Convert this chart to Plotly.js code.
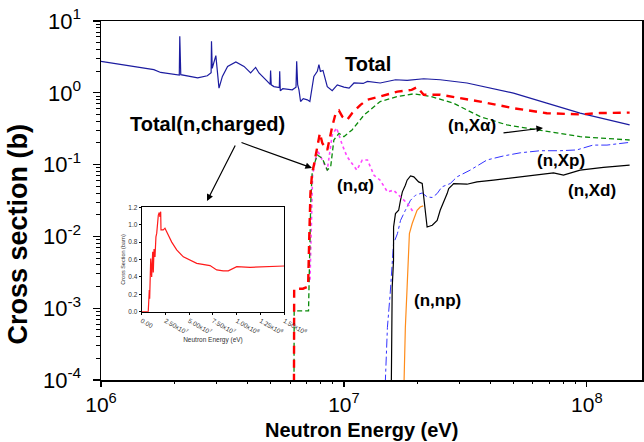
<!DOCTYPE html>
<html>
<head>
<meta charset="utf-8">
<script src="https://cdn.plot.ly/plotly-3.0.1.min.js"></script>
<style>html,body{margin:0;padding:0;background:#fff;}#chart{width:644px;height:442px;}</style>
</head>
<body>
<div id="chart"></div>
<script>
// ---- Main plot data (energy in eV, cross section in barn) ----
var totalE = [1.00e6,1.65e6,1.76e6,2.07e6,2.10e6,2.11e6,2.13e6,2.50e6,2.74e6,2.84e6,2.85e6,2.87e6,2.97e6,3.06e6,3.16e6,3.32e6,3.59e6,3.88e6,4.13e6,4.33e6,4.47e6,4.84e6,4.97e6,4.99e6,5.02e6,5.15e6,5.42e6,5.44e6,5.47e6,5.60e6,6.13e6,6.35e6,6.39e6,6.45e6,6.53e6,6.63e6,6.80e6,7.07e6,7.24e6,7.52e6,7.77e6,7.89e6,8.00e6,8.20e6,8.54e6,8.95e6,9.39e6,1.00e7,1.05e7,1.10e7,1.20e7,1.25e7,1.41e7,1.63e7,1.82e7,2.13e7,2.49e7,3.21e7,4.99e7,6.84e7,9.38e7,1.50e8];
var totalS = [2.74,2.10,1.92,1.79,1.76,6.13,1.79,1.61,1.73,1.90,5.22,2.20,3.29,1.16,1.69,2.33,2.69,2.33,1.89,2.26,1.89,1.44,1.31,2.05,1.29,1.22,1.18,1.99,1.07,1.14,1.10,1.20,2.74,1.30,1.10,0.756,0.83,0.798,0.756,1.69,1.99,2.46,1.99,2.05,1.22,1.07,1.29,1.20,1.16,1.37,1.35,1.44,1.37,1.52,1.49,1.57,1.52,1.37,0.99,0.718,0.520,0.357];

var chargedE = [6.22e6,6.24e6,6.78e6,7.12e6,7.20e6,7.28e6,7.38e6,7.50e6,7.77e6,7.96e6,8.15e6,8.54e6,8.95e6,9.25e6,9.54e6,9.85e6,1.03e7,1.08e7,1.17e7,1.25e7,1.41e7,1.51e7,1.66e7,1.90e7,2.00e7,2.13e7,2.49e7,3.64e7,4.99e7,6.84e7,9.38e7,1.13e8,1.50e8];
var chargedS = [1e-5,1.87e-3,1.87e-3,2.0e-3,0.01,0.04,0.07,0.092,0.177,0.273,0.198,0.160,0.338,0.52,0.566,0.466,0.419,0.52,0.68,0.80,0.888,0.94,1.04,1.10,1.20,0.94,0.94,0.755,0.61,0.52,0.50,0.522,0.53];

var xalphaE = [6.22e6,6.24e6,7.15e6,7.22e6,7.30e6,7.41e6,7.77e6,8.15e6,8.54e6,8.82e6,9.09e6,9.54e6,1.00e7,1.08e7,1.21e7,1.41e7,1.66e7,1.94e7,2.28e7,2.82e7,3.64e7,4.69e7,6.42e7,8.53e7,9.38e7,1.50e8];
var xalphaS = [1e-5,9.2e-4,9.2e-4,0.005,0.03,0.084,0.136,0.122,0.084,0.093,0.22,0.273,0.245,0.304,0.49,0.755,0.888,0.968,0.888,0.718,0.466,0.357,0.304,0.259,0.245,0.22];

var nalphaE = [7.25e6,7.43e6,7.77e6,8.15e6,8.54e6,8.95e6,9.33e6,9.85e6,1.03e7,1.13e7,1.19e7,1.25e7,1.33e7,1.41e7,1.51e7,1.60e7,1.71e7,1.82e7,1.93e7];
var nalphaS = [2.5e-3,0.071,0.16,0.116,0.084,0.259,0.324,0.187,0.129,0.084,0.116,0.116,0.071,0.0607,0.0417,0.044,0.0355,0.029,0.0219];

var xpE = [1.47e7,1.51e7,1.55e7,1.58e7,1.60e7,1.66e7,1.71e7,1.79e7,1.88e7,1.97e7,2.10e7,2.20e7,2.31e7,2.42e7,2.53e7,2.74e7,2.92e7,3.31e7,3.88e7,4.54e7,5.32e7,6.42e7,7.76e7,9.09e7,1.06e8,1.21e8,1.50e8];
var xpS = [5e-5,5.4e-4,1.58e-3,4.15e-3,7.9e-3,0.0109,0.0167,0.0231,0.0319,0.0374,0.0403,0.0355,0.0348,0.0395,0.0489,0.0545,0.0675,0.0838,0.116,0.132,0.146,0.156,0.156,0.160,0.187,0.187,0.204];

var xdE = [1.565e7,1.57e7,1.58e7,1.60e7,1.601e7,1.63e7,1.68e7,1.71e7,1.74e7,1.79e7,1.82e7,1.88e7,1.94e7,2.03e7,2.10e7,2.20e7,2.31e7,2.42e7,2.49e7,2.66e7,2.70e7,2.79e7,2.83e7,3.21e7,3.53e7,4.13e7,5.32e7,6.42e7,7.29e7,8.01e7,9.38e7,1.17e8,1.50e8];
var xdS = [5e-5,1.95e-3,1.95e-3,4.6e-3,0.0135,0.0208,0.0231,0.0319,0.0417,0.0517,0.0607,0.0697,0.0675,0.0574,0.0545,0.0135,0.0143,0.0167,0.0231,0.0395,0.0465,0.0517,0.0545,0.0533,0.0574,0.0607,0.0675,0.0713,0.0767,0.0713,0.0838,0.0914,0.0984];

var npE = [1.76e7,1.79e7,1.82e7,1.84e7,1.86e7,1.91e7,1.97e7,2.00e7,2.06e7,2.12e7];
var npS = [5e-5,5.4e-4,1.95e-3,4.15e-3,0.0109,0.0151,0.0197,0.0231,0.0257,0.0266];

// ---- Inset data (linear scales) ----
var insetE = [0,6.9e6,8.0e6,8.4e6,9.5e6,1.05e7,1.16e7,1.22e7,1.30e7,1.40e7,1.50e7,1.58e7,1.75e7,1.85e7,1.92e7,2.00e7,2.03e7,2.27e7,2.45e7,2.80e7,3.16e7,3.68e7,4.38e7,5.79e7,6.66e7,7.19e7,7.89e7,8.58e7,9.11e7,1.00e8,1.14e8,1.50e8];
var insetS = [0,0,0.25,0.15,0.61,0.40,0.69,0.45,0.72,0.63,0.86,0.90,1.11,1.14,1.09,1.15,0.94,0.94,0.96,0.88,0.80,0.71,0.63,0.556,0.537,0.53,0.48,0.468,0.47,0.517,0.51,0.525];

// ---- Tick values / labels ----
var xMajorVals = [1e6,1e7,1e8];
var xMajorText = ['10<sup>6</sup>','10<sup>7</sup>','10<sup>8</sup>'];
var xMinorVals = [2e6,3e6,4e6,5e6,6e6,7e6,8e6,9e6,2e7,3e7,4e7,5e7,6e7,7e7,8e7,9e7];
var yMajorVals = [1e-4,1e-3,1e-2,1e-1,1,10];
var yMajorText = ['10<sup>-4</sup>','10<sup>-3</sup>','10<sup>-2</sup>','10<sup>-1</sup>','10<sup>0</sup>','10<sup>1</sup>'];
var yMinorVals = [2e-4,3e-4,4e-4,5e-4,6e-4,7e-4,8e-4,9e-4,2e-3,3e-3,4e-3,5e-3,6e-3,7e-3,8e-3,9e-3,2e-2,3e-2,4e-2,5e-2,6e-2,7e-2,8e-2,9e-2,0.2,0.3,0.4,0.5,0.6,0.7,0.8,0.9,2,3,4,5,6,7,8,9];
var insetTickVals = [0,2.5e7,5.0e7,7.5e7,1.0e8,1.25e8,1.5e8];
var insetTickText = ['0.00','2.50x10<sup>7</sup>','5.00x10<sup>7</sup>','7.50x10<sup>7</sup>','1.00x10<sup>8</sup>','1.25x10<sup>8</sup>','1.50x10<sup>8</sup>'];

var FONT = 'Liberation Sans, Arial, sans-serif';
var XR = [6, 8.227], YR = [-4, 1];

var traces = [
  {x: totalE, y: totalS, mode:'lines', line:{color:'#1c1ca0', width:1.2}},
  {x: xpE, y: xpS, mode:'lines', line:{color:'#3333ff', width:1, dash:'dashdot'}},
  {x: xdE, y: xdS, mode:'lines', line:{color:'#000000', width:1.2}},
  {x: npE, y: npS, mode:'lines', line:{color:'#ff8c1a', width:1.2}},
  {x: nalphaE, y: nalphaS, mode:'lines', line:{color:'#ff44ff', width:1.6, dash:'dot'}},
  {x: xalphaE, y: xalphaS, mode:'lines', line:{color:'#0a8a0a', width:1.3, dash:'5px,3px'}},
  {x: chargedE, y: chargedS, mode:'lines', line:{color:'#ff0000', width:2.4, dash:'8px,6px'}},
  {x: insetE, y: insetS, xaxis:'x2', yaxis:'y2', mode:'lines', line:{color:'#ff1a1a', width:1.2}},
  // carrier for the minor-tick axes (nothing visible)
  {x: [1e6], y: [1e-4], xaxis:'x3', yaxis:'y3', mode:'markers', marker:{size:1, opacity:0}, hoverinfo:'skip'}
];

function ann(text, x, y, size, extra){
  var a = {text:text, xref:'paper', yref:'paper', x:x, y:y, showarrow:false,
    font:{family:FONT, size:size, color:'#000'}, xanchor:'center', yanchor:'middle'};
  for (var k in extra) a[k] = extra[k];
  return a;
}
function arrow(x, y, ax, ay){
  return {text:'', xref:'paper', yref:'paper', x:x, y:y, ax:ax, ay:ay, showarrow:true,
    arrowhead:2, arrowsize:1.1, arrowwidth:1.2, arrowcolor:'#000'};
}

var layout = {
  width:644, height:442,
  margin:{l:101, r:2, t:21, b:62},
  paper_bgcolor:'#fff', plot_bgcolor:'rgba(0,0,0,0)',
  showlegend:false,
  font:{family:FONT, color:'#000'},
  xaxis:{type:'log', range:XR, tickvals:xMajorVals, ticktext:xMajorText,
    showline:true, mirror:true, linecolor:'#000', linewidth:1.5, showgrid:false, zeroline:false,
    ticks:'outside', ticklen:5, tickwidth:1.2, tickcolor:'#000',
    tickfont:{family:FONT, size:21, color:'#000'}},
  yaxis:{type:'log', range:YR, tickvals:yMajorVals, ticktext:yMajorText,
    showline:true, mirror:true, linecolor:'#000', linewidth:1.5, showgrid:false, zeroline:false,
    ticks:'outside', ticklen:7, tickwidth:1.2, tickcolor:'#000', ticklabelstandoff:7,
    tickfont:{family:FONT, size:22, color:'#000'}},
  xaxis3:{type:'log', range:XR, overlaying:'x', anchor:'y', side:'bottom', tickvals:xMinorVals,
    showticklabels:false, ticks:'outside', ticklen:3, tickwidth:1, tickcolor:'#000',
    showline:false, showgrid:false, zeroline:false},
  yaxis3:{type:'log', range:YR, overlaying:'y', anchor:'x', side:'left', tickvals:yMinorVals,
    showticklabels:false, ticks:'outside', ticklen:4, tickwidth:1, tickcolor:'#000',
    showline:false, showgrid:false, zeroline:false},
  xaxis2:{domain:[0.0752, 0.3388], anchor:'y2', range:[0, 1.5e8], tickvals:insetTickVals, ticktext:insetTickText,
    showline:true, mirror:true, linecolor:'#000', linewidth:1, showgrid:false, zeroline:false,
    ticks:'outside', ticklen:2, tickcolor:'#000', tickfont:{family:FONT, size:6.5, color:'#333'},
    title:{text:'Neutron Energy (eV)', font:{family:FONT, size:6.5, color:'#333'}, standoff:2}},
  yaxis2:{domain:[0.1903, 0.4811], anchor:'x2', range:[0, 1.2], dtick:0.2, tickformat:'.1f',
    showline:true, mirror:true, linecolor:'#000', linewidth:1, showgrid:false, zeroline:false,
    ticks:'outside', ticklen:2, tickcolor:'#000', tickfont:{family:FONT, size:6.5, color:'#333'},
    title:{text:'Cross Section (barn)', font:{family:FONT, size:5.5, color:'#333'}, standoff:2}},
  annotations:[
    ann('<b>Cross section (b)</b>', -0.1534, 0.405, 27, {textangle:-90}),
    ann('<b>Neutron Energy (eV)</b>', 0.4824, -0.138, 20, {}),
    ann('<b>Total</b>', 0.4935, 0.8802, 20, {}),
    ann('<b>Total(n,charged)</b>', 0.0499, 0.713, 20, {xanchor:'left'}),
    ann('<b>(n,X\u03b1)</b>', 0.6858, 0.7103, 17, {}),
    ann('<b>(n,Xp)</b>', 0.8503, 0.6128, 17, {}),
    ann('<b>(n,Xd)</b>', 0.9076, 0.5292, 17, {}),
    ann('<b>(n,\u03b1)</b>', 0.4713, 0.5404, 17, {}),
    ann('<b>(n,np)</b>', 0.6229, 0.2228, 17, {}),
    arrow(0.39, 0.5905, -72, -26),
    arrow(0.1959, 0.4986, 29, -57),
    arrow(0.817, 0.7019, -41, 5)
  ]
};

Plotly.newPlot('chart', traces, layout, {displayModeBar:false, staticPlot:true});
</script>
</body>
</html>
